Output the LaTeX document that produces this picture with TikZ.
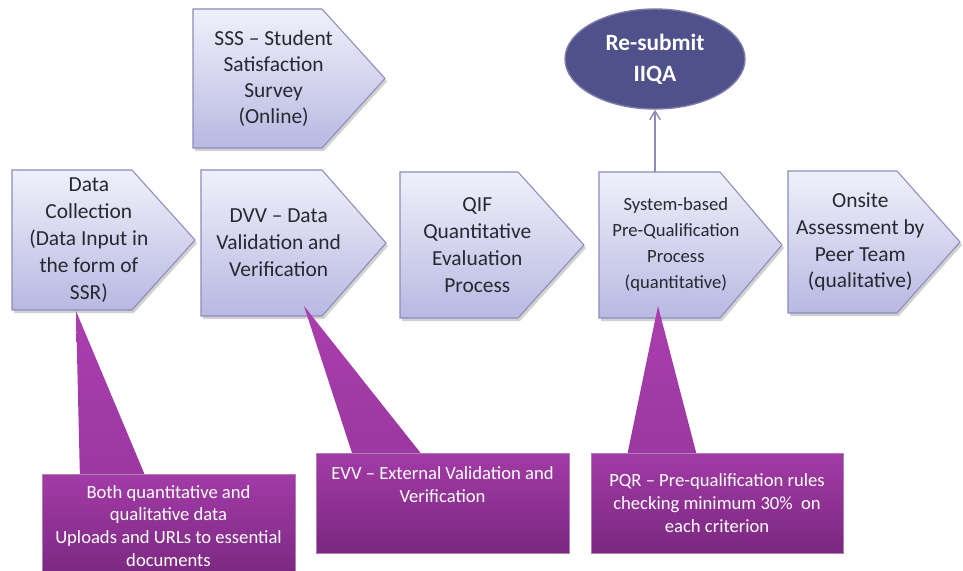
\documentclass[tikz,border=0pt]{standalone}
\usepackage{fontspec}
\setmainfont{Carlito}
\usetikzlibrary{calc,arrows.meta,shapes.geometric}
\definecolor{boxtop}{RGB}{240,240,251}
\definecolor{boxbot}{RGB}{184,184,226}
\definecolor{boxline}{RGB}{140,140,186}
\definecolor{boxtext}{RGB}{40,40,50}
\definecolor{purtop}{RGB}{170,62,174}
\definecolor{purbot}{RGB}{122,40,128}
\definecolor{ellfill}{RGB}{80,80,138}
\definecolor{arrowc}{RGB}{140,140,180}
\tikzset{
  boxtxt/.style={text=boxtext,align=center,inner sep=0pt,font=\fontsize{12.2}{15.3}\selectfont},
  smalltxt/.style={font=\fontsize{10.6}{14.8}\selectfont},
  calloutbox/.style={top color=purtop!85!purbot,bottom color=purbot,text=white,align=center,
     inner sep=0pt,font=\fontsize{10.6}{13.3}\selectfont,draw=purbot!60!white,line width=0.4pt},
  pointer/.style={top color=purtop,bottom color=purtop!70!purbot},
  shadowc/.style={fill=black,opacity=0.18}
}
% name, left, top, bottom, corner, tip, text, extra style
\newcommand{\chevron}[8]{%
  \pgfmathsetmacro{\mY}{(#3+#4)/2}%
  \pgfmathsetmacro{\tX}{#2+0.42*(#6-#2)}%
  \fill[shadowc] (#2+2,#3+3) -- (#5+2,#3+3) -- (#6+2,\mY+3) -- (#5+2,#4+3) -- (#2+2,#4+3) -- cycle;
  \shadedraw[top color=boxtop,bottom color=boxbot,draw=boxline,line width=0.6pt]
     (#2,#3) -- (#5,#3) -- (#6,\mY) -- (#5,#4) -- (#2,#4) -- cycle;
  \coordinate (#1-top) at (\tX,#3);
  \node[boxtxt,#8] (#1) at (\tX,\mY) {#7};
}
\begin{document}
\begin{tikzpicture}[x=0.02cm,y=-0.02cm]
\useasboundingbox (0,0) rectangle (963,571);
\fill[white] (0,0) rectangle (963,571);

% upper row
\chevron{sss}{193}{9}{148}{322}{385}{SSS – Student\\Satisfaction\\Survey\\(Online)}{font=\fontsize{12.2}{14.8}\selectfont}

\node[ellipse,fill=ellfill,draw=ellfill!75!white,line width=0.8pt,minimum width=3.6cm,minimum height=2.0cm,
      text=white,align=center,inner sep=0pt,font=\bfseries\fontsize{13.3}{17.5}\selectfont] (ell) at (655,59) {Re-submit\\IIQA};

% main row
\chevron{b1}{12}{170}{310}{132}{195}{Data\\Collection\\(Data Input in\\the form of\\SSR)}{}
\chevron{b2}{201}{170}{316}{322}{386}{DVV – Data\\Validation and\\Verification}{}
\chevron{b3}{400}{172}{318}{518}{584}{QIF\\Quantitative\\Evaluation\\Process}{}
\chevron{b4}{599}{172}{318}{720}{782}{System-based\\Pre-Qualification\\Process\\(quantitative)}{smalltxt}
\chevron{b5}{788}{171}{313}{897}{960}{Onsite\\Assessment by\\Peer Team\\(qualitative)}{}

\draw[arrowc,line width=0.8pt,-{Straight Barb[length=5pt,width=6pt]}] (ell.south |- b4-top) -- (ell.south);

% callouts
\coordinate (t1) at (76,311);
\coordinate (t2) at (304,306);
\coordinate (t3) at (658,306);
\shade[pointer] (t1) -- (80,480) -- (147,480) -- cycle;
\shade[pointer] (t2) -- (353,456) -- (423,456) -- cycle;
\shade[pointer] (t3) -- (627,456) -- (697,456) -- cycle;

\node[calloutbox,minimum width=5.06cm,minimum height=2.06cm,font=\fontsize{10.6}{13}\selectfont] (c1) at (168.5,526)
  {Both quantitative and\\qualitative data\\Uploads and URLs to essential\\documents};
\node[calloutbox,minimum width=5.06cm,minimum height=2.0cm] (c2) at (442.5,503)
  {EVV – External Validation and\\Verification\\[8pt]};
\node[calloutbox,minimum width=5.04cm,minimum height=2.0cm] (c3) at (717,503)
  {PQR – Pre-qualification rules\\checking minimum 30\%\ \ on\\each criterion};
\end{tikzpicture}
\end{document}
